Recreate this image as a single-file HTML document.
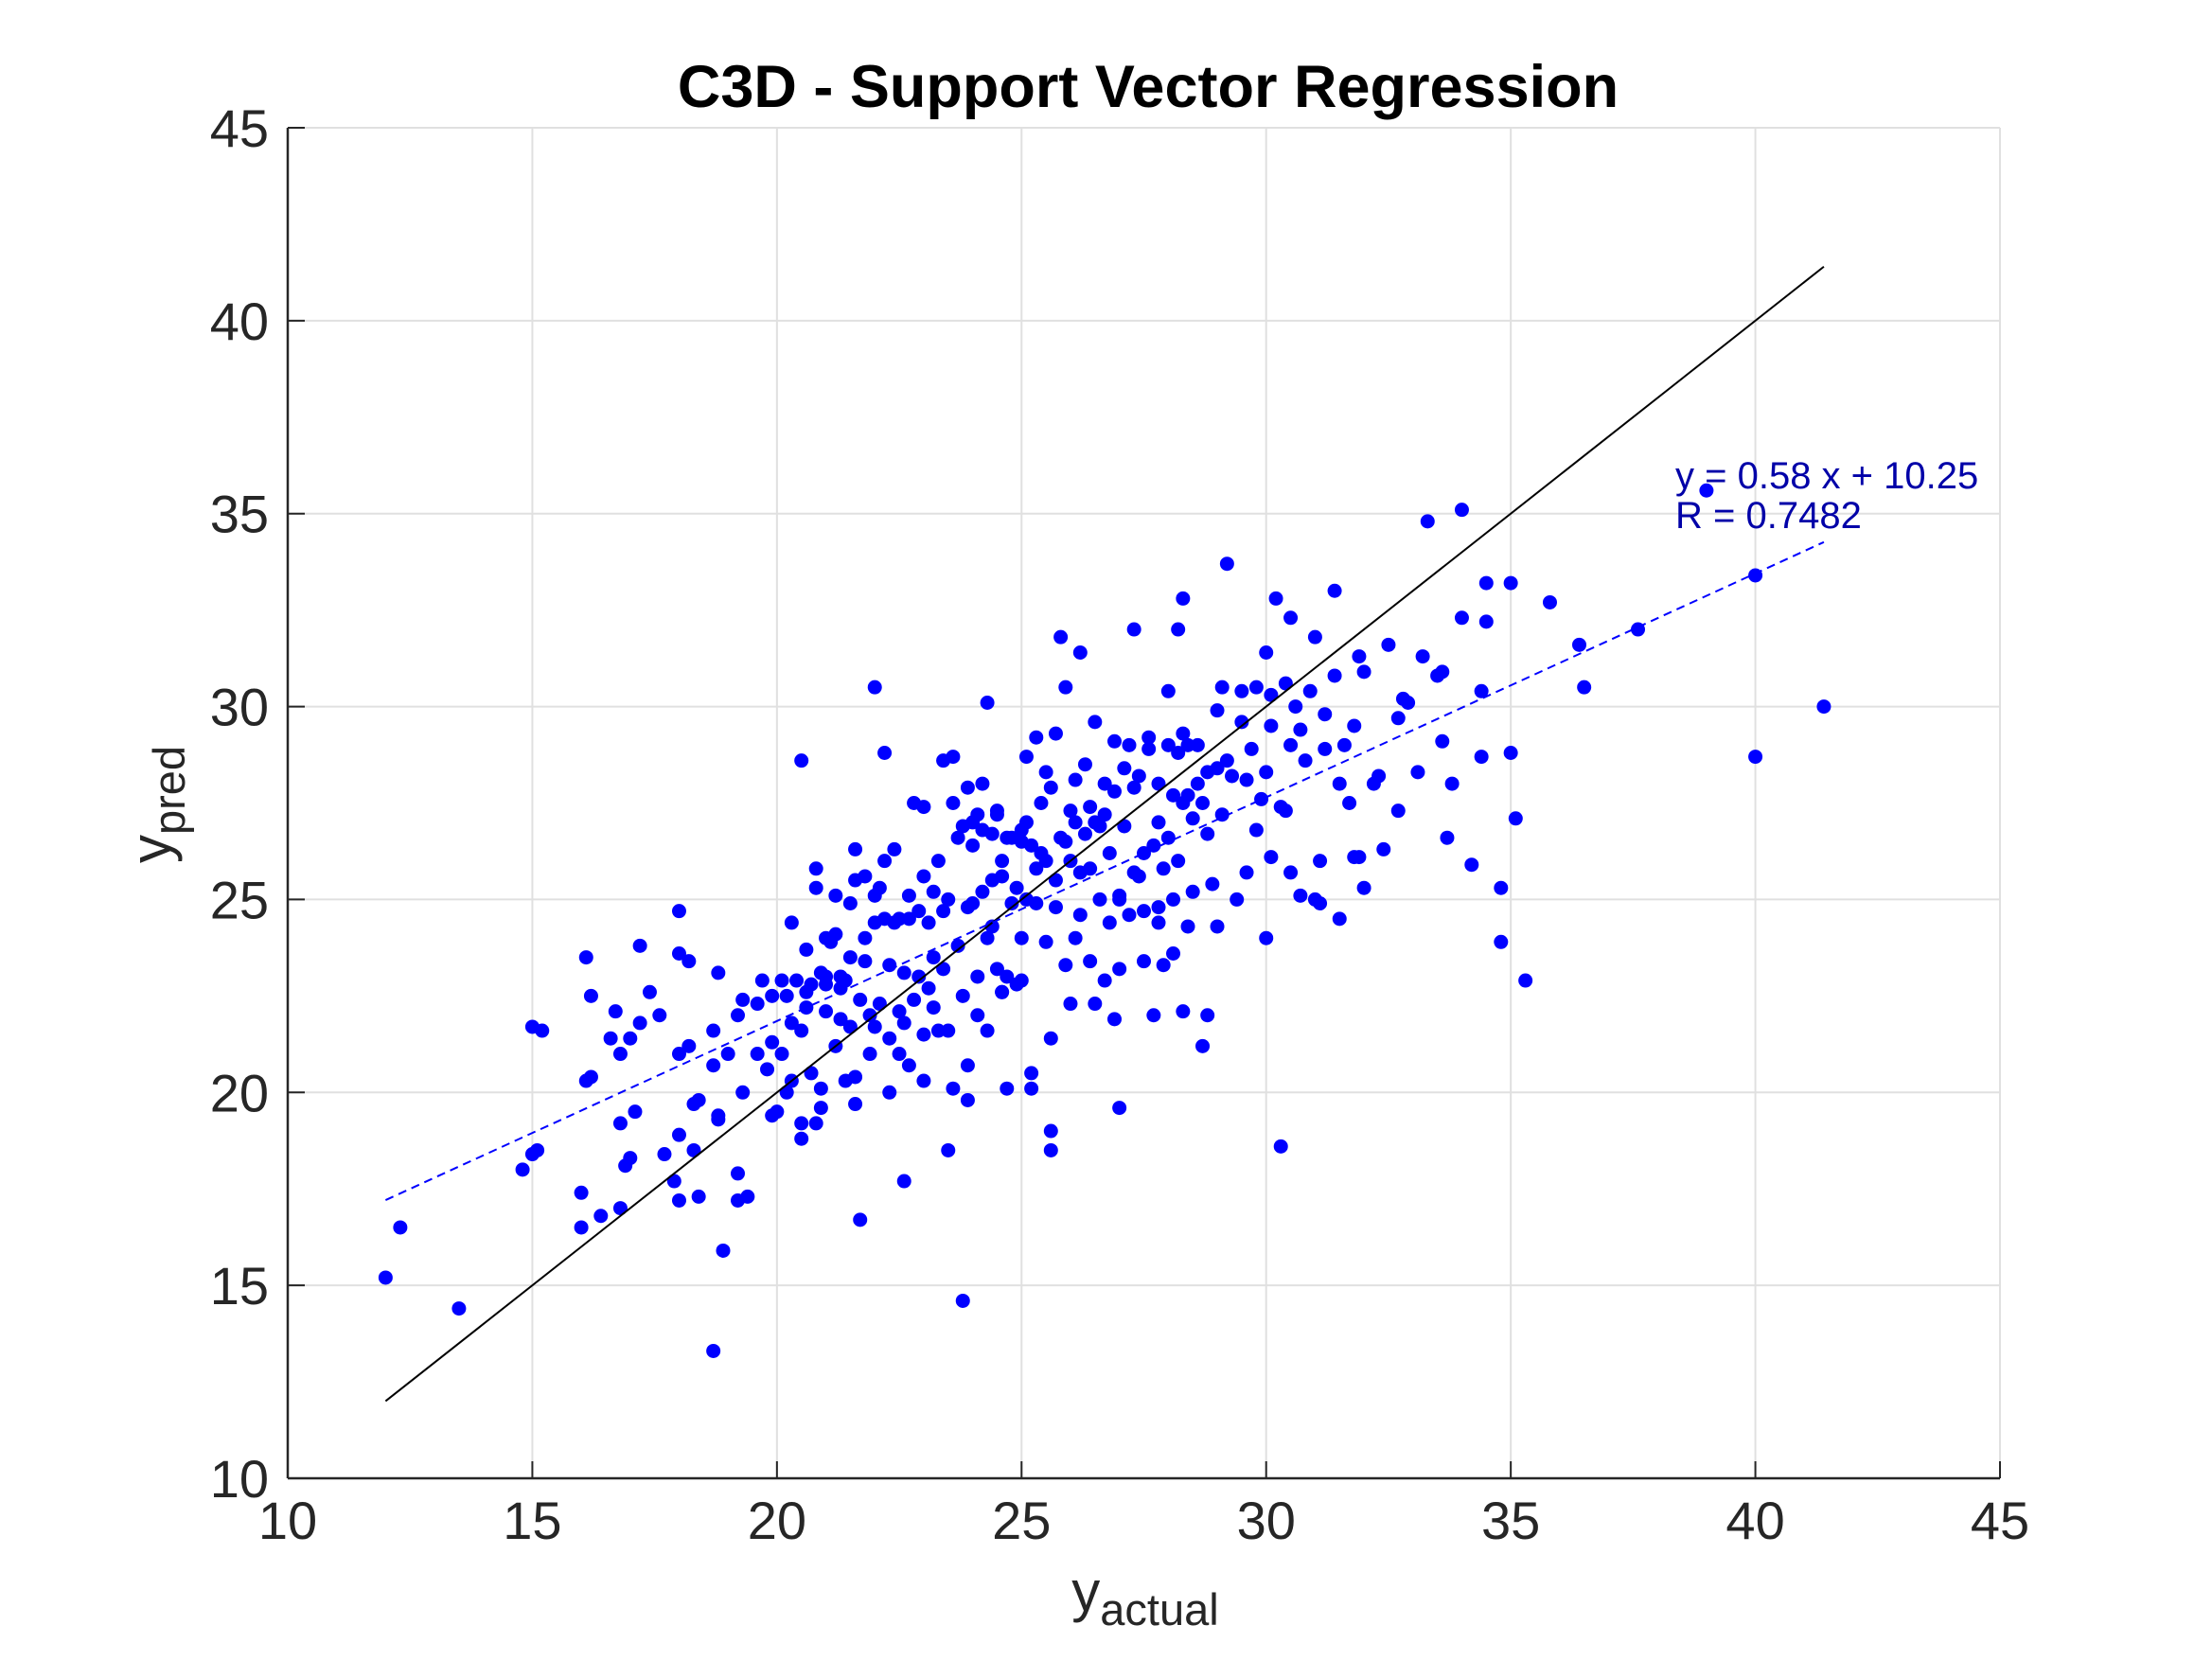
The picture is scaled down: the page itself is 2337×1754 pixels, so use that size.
<!DOCTYPE html>
<html><head><meta charset="utf-8"><style>
html,body{margin:0;padding:0;background:#fff;}
svg{display:block;font-family:"Liberation Sans",Arial,sans-serif;}
</style></head><body>
<svg id="chart" width="2337" height="1754" viewBox="0 0 2337 1754" xmlns="http://www.w3.org/2000/svg">
<rect width="2337" height="1754" fill="#fff"/>
<g id="grid"></g>
<g id="axes"></g>
<g id="points"></g>
<g id="lines"></g>
<text x="1213" y="113" font-size="63" font-weight="bold" text-anchor="middle" fill="#000">C3D - Support Vector Regression</text>
<text x="1210" y="1702" font-size="60" text-anchor="middle" fill="#262626">y<tspan font-size="47" dy="15">actual</tspan></text>
<text transform="translate(180,850) rotate(-90)" font-size="60" text-anchor="middle" fill="#262626">y<tspan font-size="47" dy="15">pred</tspan></text>
<text x="1770" y="516" font-size="40" fill="#0000a8">y = 0.58 x + 10.25</text>
<text x="1770" y="558" font-size="40" fill="#0000a8">R = 0.7482</text>
</svg>
<script>
const xTicks=[10,15,20,25,30,35,40,45];
const yTicks=[10,15,20,25,30,35,40,45];
const fitSlope=0.58, fitIntercept=10.25;
const lineRange=[12,41.4];
const xs=[12.0,12.3,13.5,14.8,15.0,15.1,15.0,15.2,16.0,16.0,16.1,16.2,16.1,16.2,16.4,16.6,16.7,16.8,16.8,16.8,16.9,17.0,17.1,17.0,17.2,17.2,17.4,17.6,17.7,17.9,18.0,18.0,18.0,18.0,18.0,18.2,18.2,18.3,18.3,18.4,18.4,18.7,18.7,18.7,18.8,18.8,18.8,18.9,19.0,19.2,19.2,19.3,19.2,19.3,19.4,19.6,19.7,19.8,19.9,19.9,20.0,20.1,20.1,20.2,20.3,20.3,20.4,20.5,20.6,20.5,20.5,20.5,20.6,20.6,20.7,20.8,20.8,20.8,20.9,20.9,21.0,21.0,21.0,21.1,21.2,21.2,21.3,21.3,21.4,21.4,21.5,21.5,21.6,21.6,21.6,21.6,21.7,21.7,21.8,21.8,21.9,21.9,22.0,22.0,22.0,22.1,22.2,22.2,22.3,22.3,22.3,22.4,22.5,22.5,22.5,22.6,22.6,22.7,22.7,22.8,22.8,22.9,23.0,23.0,23.0,23.0,23.1,23.2,23.2,23.3,23.4,23.4,23.4,23.5,23.5,23.6,23.6,23.7,23.8,23.8,23.8,23.9,23.9,23.9,24.0,24.0,24.1,24.1,24.2,24.2,24.3,24.3,24.4,24.4,24.5,24.5,24.6,24.6,24.7,24.7,24.8,24.9,25.0,25.0,25.1,25.1,25.2,25.2,25.3,25.3,25.4,25.5,25.5,25.6,25.6,25.6,25.7,25.7,25.8,25.9,25.9,26.0,26.0,26.1,26.1,26.2,26.2,26.3,26.4,26.4,26.5,26.6,26.7,26.7,26.8,26.9,26.9,27.0,27.0,27.1,27.2,27.3,27.3,27.4,27.5,27.5,27.6,27.7,27.8,27.8,27.9,28.0,28.0,28.1,28.2,28.2,28.3,28.3,28.3,28.4,28.4,28.5,28.6,28.7,28.8,28.8,29.0,29.0,29.1,29.2,29.2,29.4,29.5,29.6,29.6,29.8,29.9,30.0,30.0,30.1,30.1,30.2,30.3,30.4,30.4,30.5,30.5,30.7,30.7,30.9,31.0,31.1,31.1,31.2,31.4,31.5,31.5,31.6,31.7,31.8,31.9,31.9,32.0,32.2,32.4,32.5,32.7,32.7,32.8,33.1,33.2,33.3,33.5,33.6,33.7,33.8,34.0,34.0,34.2,34.4,34.4,34.5,34.5,34.8,34.8,35.0,35.0,35.1,35.3,35.8,36.4,36.5,37.6,39.0,40.0,40.0,41.4,
21.0,21.3,21.8,22.1,22.4,22.9,23.2,23.5,23.7,23.9,24.0,24.2,24.3,24.4,24.5,24.6,24.7,24.8,24.9,25.0,25.1,25.2,25.3,25.4,25.5,25.6,25.7,25.8,25.9,26.0,26.1,26.2,26.3,26.4,26.5,26.6,26.7,26.8,26.9,27.0,27.1,27.2,27.3,27.4,27.5,27.6,27.7,27.8,27.9,28.0,28.1,28.2,28.3,28.4,28.5,28.6,28.7,28.8,28.9,29.0,29.1,29.3,29.5,29.7,29.8,30.0,30.1,30.3,30.5,30.8,22.0,22.6,23.1,23.3,20.9,21.5,22.2,20.7,20.3,19.9,24.1,24.6,25.0,26.5,27.0,27.8,28.1,19.6,20.2,21.2,22.7,23.6,30.6,31.2,31.4,32.3,32.9,33.6,32.0,31.8,31.0];
const ys=[15.2,16.5,14.4,18.0,18.4,18.5,21.7,21.6,16.5,17.4,20.3,20.4,23.5,22.5,16.8,21.4,22.1,21.0,17.0,19.2,18.1,18.3,19.5,21.4,21.8,23.8,22.6,22.0,18.4,17.7,17.2,18.9,21.0,24.7,23.6,21.2,23.4,18.5,19.7,19.8,17.3,21.6,20.7,13.3,19.3,19.4,23.1,15.9,21.0,17.2,17.9,20.0,22.0,22.4,17.3,22.3,22.9,20.6,19.4,21.3,19.5,21.0,22.9,22.5,20.3,24.4,22.9,21.6,22.2,19.2,18.8,28.6,23.7,22.6,20.5,25.8,25.3,19.2,19.6,20.1,22.1,23.0,24.0,23.9,24.1,25.1,21.9,22.7,20.3,22.9,23.5,21.7,25.5,26.3,19.7,20.4,16.7,22.4,23.4,25.6,22.0,21.0,30.5,24.4,25.1,22.3,28.8,26.0,20.0,21.4,23.3,26.3,24.5,22.1,21.0,17.7,21.8,24.5,25.1,27.5,22.4,23.0,27.4,21.5,20.3,25.6,24.4,22.2,25.2,26.0,28.6,23.2,24.7,18.5,21.6,27.5,28.7,23.8,22.5,26.9,14.6,27.9,20.7,19.8,24.9,26.4,23.0,27.2,28.0,25.2,30.1,21.6,24.3,26.7,23.2,27.3,22.6,25.6,26.6,20.1,24.9,22.8,26.5,24.0,27.0,28.7,20.1,20.5,29.2,25.8,26.2,23.9,28.3,21.4,19.0,18.5,25.5,29.3,31.8,26.5,30.5,27.3,22.3,24.0,28.1,25.7,31.4,26.7,27.4,23.4,29.6,25.0,22.9,27.2,26.2,29.1,21.9,19.6,25.1,28.4,24.6,32.0,27.9,25.6,26.2,23.4,28.9,22.0,27.0,24.8,23.3,30.4,26.6,25.0,32.0,28.8,27.5,22.1,32.8,24.3,29.0,27.1,28.0,21.2,22.0,26.7,24.3,29.9,27.2,33.7,28.6,25.0,29.6,25.7,28.1,30.5,27.6,24.0,31.4,29.5,26.1,32.8,18.6,27.3,30.6,32.3,25.7,29.4,25.1,30.4,31.8,26.0,24.9,28.9,33.0,28.0,24.5,29.0,27.5,29.5,31.3,26.1,30.9,28.0,26.3,31.6,29.7,27.3,30.2,28.3,31.3,34.8,30.8,29.1,26.6,28.0,35.1,32.3,25.9,28.7,30.4,32.2,33.2,25.3,23.9,28.8,33.2,27.1,22.9,32.7,31.6,30.5,32.0,35.6,33.4,28.7,30.0,
22.8,23.0,24.0,25.3,24.4,24.7,23.5,25.0,26.6,24.8,27.0,26.8,24.0,25.5,27.2,26.0,23.0,26.6,25.3,26.8,25.0,26.4,24.9,27.5,26.0,27.9,24.8,26.6,23.3,26.0,27.0,24.6,28.5,25.8,27.0,26.9,28.0,24.4,27.8,25.0,26.9,29.0,25.7,28.2,24.7,29.2,26.4,28.0,25.8,29.0,27.7,26.0,29.3,27.7,25.2,29.0,27.5,28.3,25.4,28.4,30.5,28.2,30.4,28.9,26.8,28.3,30.3,27.4,29.0,28.6,21.7,23.1,22.7,21.6,23.1,24.9,24.5,22.8,21.8,22.5,22.0,22.6,22.9,22.3,23.2,24.4,23.6,21.0,20.0,21.2,20.7,20.1,30.0,29.8,30.8,28.2,30.1,30.9,25.3,26.1,25.0];

const NS="http://www.w3.org/2000/svg";
const L=304,R=2113,T=135,B=1562,X0=10,X1=45,Y0=10,Y1=45;
function sx(v){return L+(v-X0)/(X1-X0)*(R-L);}
function sy(v){return B-(v-Y0)/(Y1-Y0)*(B-T);}
function mk(tag,attrs,parent){const e=document.createElementNS(NS,tag);for(const k in attrs)e.setAttribute(k,attrs[k]);parent.appendChild(e);return e;}
const grid=document.getElementById('grid'),axes=document.getElementById('axes'),pts=document.getElementById('points'),lines=document.getElementById('lines');
xTicks.forEach(t=>{
  const g=mk('line',{x1:sx(t),x2:sx(t),y1:T,y2:B,stroke:'#e0e0e0','stroke-width':2},grid);
  
  
  const k=mk('line',{x1:sx(t),x2:sx(t),y1:B,y2:B-18,stroke:'#262626','stroke-width':2},axes);
  
  
  const tx=mk('text',{x:sx(t),y:B+64,'font-size':56,'text-anchor':'middle',fill:'#262626'},axes);
  tx.textContent=t;
  
  
});
yTicks.forEach(t=>{
  const g=mk('line',{x1:L,x2:R,y1:sy(t),y2:sy(t),stroke:'#e0e0e0','stroke-width':2},grid);
  
  
  const k=mk('line',{x1:L,x2:L+18,y1:sy(t),y2:sy(t),stroke:'#262626','stroke-width':2},axes);
  
  
  const tx=mk('text',{x:L-20,y:sy(t)+20,'font-size':56,'text-anchor':'end',fill:'#262626'},axes);
  tx.textContent=t;
  
  
});
const xa=mk('line',{x1:L,x2:R,y1:B,y2:B,stroke:'#262626','stroke-width':2.5},axes);


const ya=mk('line',{x1:L,x2:L,y1:T,y2:B,stroke:'#262626','stroke-width':2.5},axes);


xs.forEach((x,i)=>{
  const c=mk('circle',{cx:sx(x),cy:sy(ys[i]),r:7.5,fill:'#0000ff'},pts);
  
  
});
const id=mk('line',{x1:sx(lineRange[0]),y1:sy(lineRange[0]),x2:sx(lineRange[1]),y2:sy(lineRange[1]),stroke:'#000','stroke-width':2},lines);


const fit=mk('line',{x1:sx(lineRange[0]),y1:sy(fitSlope*lineRange[0]+fitIntercept),x2:sx(lineRange[1]),y2:sy(fitSlope*lineRange[1]+fitIntercept),stroke:'#0000ff','stroke-width':2,'stroke-dasharray':'9,6'},lines);


</script>
</body></html>
